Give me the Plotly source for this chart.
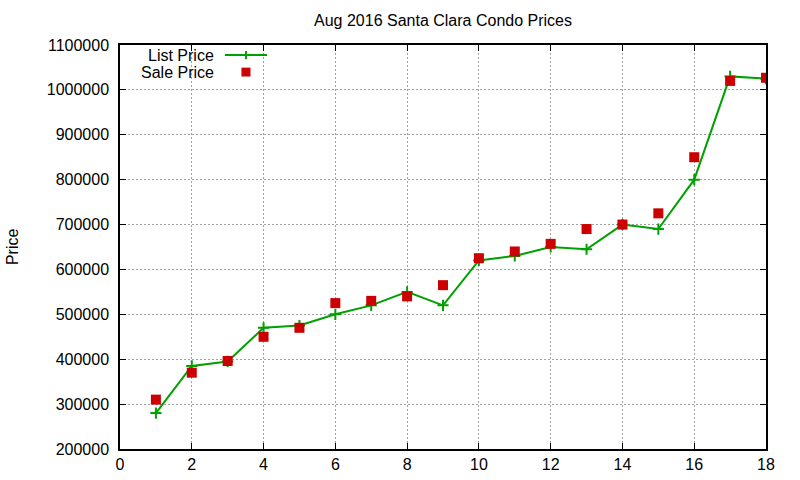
import plotly.graph_objects as go

# condo number vs price
units = list(range(1, 19))
list_price = [280000, 385000, 395000, 470000, 475000, 500000, 520000, 550000, 520000,
              620000, 630000, 650000, 645000, 700000, 690000, 800000, 1030000, 1025000]
sale_price = [310000, 370000, 396000, 450000, 470000, 525000, 530000, 540000, 565000,
              625000, 640000, 657000, 690000, 700000, 725000, 850000, 1020000, 1027000]

x_ticks = list(range(0, 19, 2))
y_ticks = list(range(200000, 1100001, 100000))

GREEN = "#00a000"
RED = "#cc0000"
FONT = "Liberation Sans, Arial, sans-serif"
FSIZE = 16

fig = go.Figure()

fig.add_trace(go.Scatter(
    x=units, y=list_price, name="List Price", mode="lines+markers",
    line=dict(color=GREEN, width=2),
    marker=dict(symbol="cross-thin", size=8, line=dict(color=GREEN, width=2)),
))
fig.add_trace(go.Scatter(
    x=units, y=sale_price, name="Sale Price", mode="markers",
    marker=dict(symbol="square", size=10, color=RED),
))

axis_common = dict(
    showline=True, linecolor="black", linewidth=1.5, mirror="allticks",
    ticks="inside", ticklen=6, tickcolor="black", tickwidth=1,
    showgrid=True, gridcolor="#a0a0a0", griddash="2px,2px", gridwidth=1,
    zeroline=False, automargin=False,
    tickfont=dict(family=FONT, size=FSIZE, color="black"),
)

fig.update_xaxes(range=[0, 18], tickvals=x_ticks, **axis_common)
fig.update_yaxes(range=[200000, 1100000], tickvals=y_ticks,
                 tickformat="d", ticklabelstandoff=6, **axis_common)

# gnuplot-style key: text on the left, sample on the right
shapes = [
    dict(type="line", xref="paper", yref="paper", x0=0.1625, x1=0.2276,
         y0=0.975, y1=0.975, line=dict(color=GREEN, width=2)),
    dict(type="line", xref="paper", yref="paper", x0=0.195, x1=0.195,
         y0=0.965, y1=0.985, line=dict(color=GREEN, width=2)),
    dict(type="rect", xref="paper", yref="paper", x0=0.1880, x1=0.2020,
         y0=0.922, y1=0.944, line=dict(width=0), fillcolor=RED),
]
annotations = [
    dict(text="List Price", xref="paper", yref="paper", x=0.1486, y=0.975,
         xanchor="right", yanchor="middle", showarrow=False,
         font=dict(family=FONT, size=FSIZE, color="black")),
    dict(text="Sale Price", xref="paper", yref="paper", x=0.1486, y=0.933,
         xanchor="right", yanchor="middle", showarrow=False,
         font=dict(family=FONT, size=FSIZE, color="black")),
    dict(text="Price", xref="paper", yref="paper", x=-0.167, y=0.5,
         textangle=-90, xanchor="center", yanchor="middle", showarrow=False,
         font=dict(family=FONT, size=FSIZE, color="black")),
]

fig.update_layout(
    width=800, height=480,
    margin=dict(l=120, r=34, t=45, b=31),
    paper_bgcolor="white", plot_bgcolor="white",
    title=dict(text="Aug 2016 Santa Clara Condo Prices", x=0.5, xref="paper",
               y=1 - 20 / 480, yanchor="middle",
               font=dict(family=FONT, size=FSIZE, color="black")),
    showlegend=False,
    shapes=shapes, annotations=annotations,
)

# drop the default page margin so the figure sits at the window corner
fig.write_html("out.html", config={"displayModeBar": False},
               post_script="document.body.style.margin='0';")
